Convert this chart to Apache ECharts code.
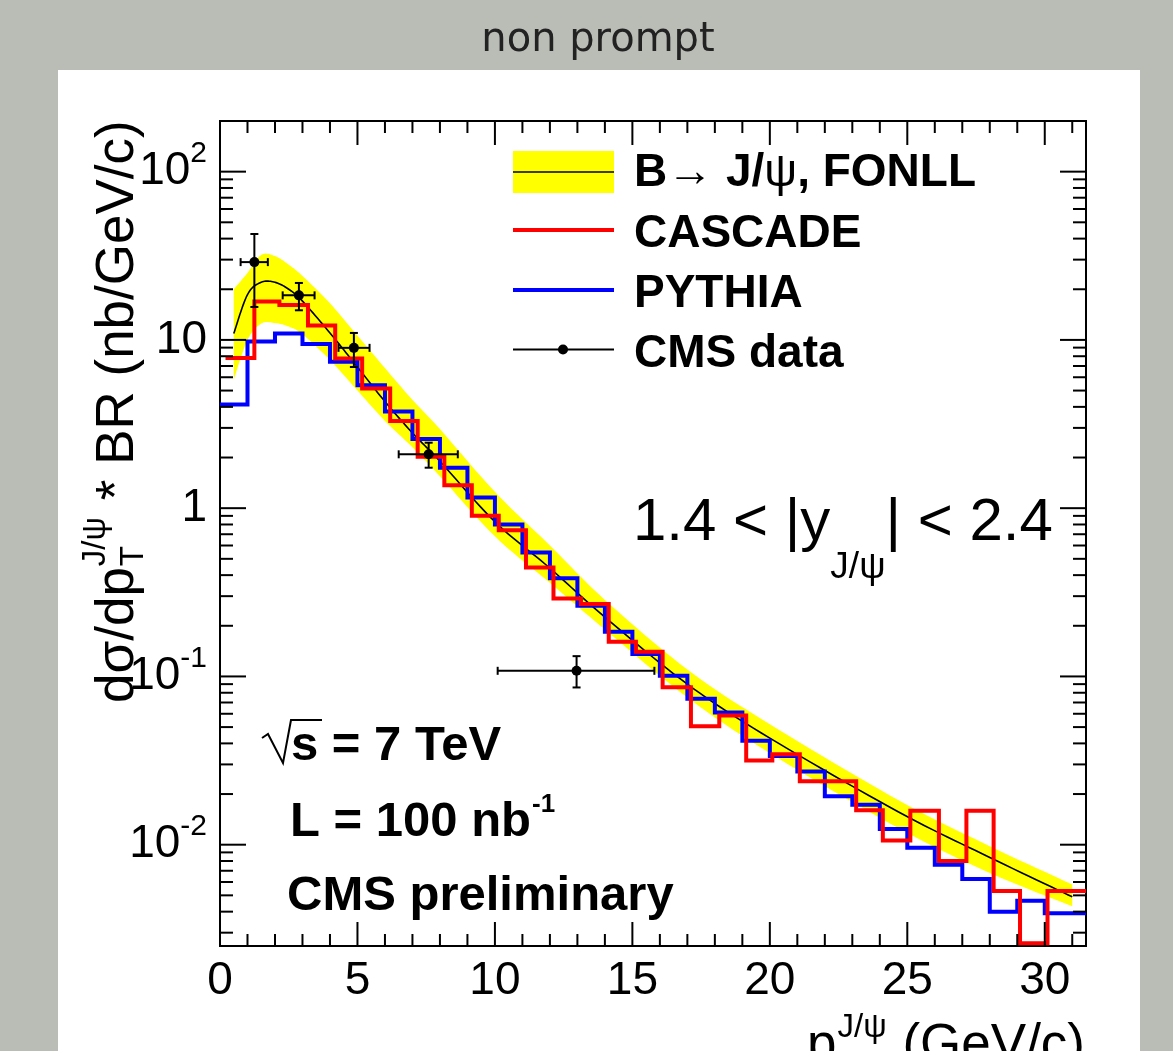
<!DOCTYPE html>
<html>
<head>
<meta charset="utf-8">
<title>non prompt</title>
<script src="https://cdn.jsdelivr.net/npm/echarts@6.0.0/dist/echarts.min.js"></script>
<style>
html,body{margin:0;padding:0;background:#babdb6;overflow:hidden;}
#panel{position:absolute;left:58px;top:70px;width:1082px;height:990px;background:#ffffff;}
#chart{position:absolute;left:0;top:0;width:1173px;height:1051px;}
</style>
</head>
<body>
<div id="panel"></div>
<div id="chart"></div>
<script>
// ---------------- data ----------------
const pythiaEdges  = [0,1,2,3,4,5,6,7,8,9,10,11,12,13,14,15,16,17,18,19,20,21,22,23,24,25,26,27,28,29,30,31.5];
const pythiaValues = [4.13,9.8,10.9,9.46,7.41,5.38,3.75,2.58,1.74,1.156,0.80,0.545,0.383,0.263,0.1845,0.136,0.101,0.0737,0.061,0.0415,0.0337,0.0272,0.0194,0.0173,0.0124,0.0096,0.0076,0.00625,0.0040,0.00464,0.00392];

const cascadeEdges  = [0.2,1.25,2.16,3.2,4.19,5.17,6.19,7.19,8.16,9.16,10.14,11.13,12.13,13.13,14.14,15.13,16.1,17.13,18.16,19.14,20.09,21.09,22.1,23.14,24.11,25.11,26.15,27.15,28.14,29.1,30.1,31.5];
const cascadeValues = [7.82,16.9,16.1,12.2,7.75,5.15,3.3,2.02,1.37,0.90,0.74,0.444,0.291,0.269,0.161,0.140,0.0863,0.0505,0.0585,0.0317,0.0345,0.0238,0.0238,0.0160,0.0106,0.0159,0.0080,0.0159,0.0053,0.0026,0.0053];

const fonllPt      = [0.5,1,1.5,2,2.5,3,4,5,6,7,8,10,12,14,17,20,24.7,28,31];
const fonllCentral = [10.9,18.6,22,22,20,17,11,6.9,4.3,2.8,1.9,0.83,0.44,0.225,0.09,0.043,0.0156,0.0084,0.0049];
const fonllUpper   = [20,25,32,31.5,28,24,16.5,10.6,6.8,4.4,2.95,1.25,0.6,0.285,0.11,0.052,0.0183,0.0098,0.0058];
const fonllLower   = [5.8,10,12.5,12.6,12,10.8,7.6,5.0,3.3,2.3,1.55,0.68,0.36,0.19,0.075,0.035,0.0125,0.0068,0.0043];

const cmsPt     = [1.25,2.87,4.87,7.59,12.97];
const cmsValue  = [29.0,18.4,8.97,2.09,0.108];
const cmsPtLow  = [0.75,2.28,4.31,6.5,10.1];
const cmsPtHigh = [1.74,3.44,5.44,8.65,15.8];
const cmsErrLow = [15.7,15.0,6.9,1.74,0.086];
const cmsErrHigh= [42.6,21.8,11.0,2.45,0.132];

const xMajorTicks = [0,5,10,15,20,25,30];
const xMinorTicks = [1,2,3,4,6,7,8,9,11,12,13,14,16,17,18,19,21,22,23,24,26,27,28,29,31];
const yMajorTicks = [0.01,0.1,1,10,100];
const yMinorTicks = [0.003,0.004,0.005,0.006,0.007,0.008,0.009,
                     0.02,0.03,0.04,0.05,0.06,0.07,0.08,0.09,
                     0.2,0.3,0.4,0.5,0.6,0.7,0.8,0.9,
                     2,3,4,5,6,7,8,9,
                     20,30,40,50,60,70,80,90];

// ---------------- helpers ----------------
const FF = '"Liberation Sans", Arial, Helvetica, sans-serif';
const mctx = document.createElement('canvas').getContext('2d');
function measure(t, size, weight) { mctx.font = (weight || 'normal') + ' ' + size + 'px ' + FF; return mctx.measureText(t).width; }

function histPoints(edges, vals) {
  const pts = vals.map((v, i) => [edges[i], v]);
  pts.push([edges[edges.length - 1], vals[vals.length - 1]]);
  return pts;
}
function splinePts(p) {
  const out = [], n = p.length, N = 12;
  for (let i = 0; i < n - 1; i++) {
    const p0 = p[Math.max(i - 1, 0)], p1 = p[i], p2 = p[i + 1], p3 = p[Math.min(i + 2, n - 1)];
    const c1 = [p1[0] + (p2[0] - p0[0]) / 6, p1[1] + (p2[1] - p0[1]) / 6];
    const c2 = [p2[0] - (p3[0] - p1[0]) / 6, p2[1] - (p3[1] - p1[1]) / 6];
    for (let k = 0; k < N; k++) {
      const t = k / N, u = 1 - t;
      out.push([u*u*u*p1[0] + 3*u*u*t*c1[0] + 3*u*t*t*c2[0] + t*t*t*p2[0],
                u*u*u*p1[1] + 3*u*u*t*c1[1] + 3*u*t*t*c2[1] + t*t*t*p2[1]]);
    }
  }
  out.push(p[n - 1]);
  return out;
}

function renderBand(params, api) {
  if (params.dataIndex !== 0) return null;
  const up = fonllPt.map((x, i) => api.coord([x, fonllUpper[i]]));
  const lo = fonllPt.map((x, i) => api.coord([x, fonllLower[i]]));
  const pts = splinePts(up).concat(splinePts(lo).reverse());
  return { type: 'polygon', shape: { points: pts }, style: { fill: '#ffff00', stroke: null } };
}
function renderCentral(params, api) {
  if (params.dataIndex !== 0) return null;
  const c = fonllPt.map((x, i) => api.coord([x, fonllCentral[i]]));
  return { type: 'polyline', shape: { points: splinePts(c) }, style: { stroke: '#000', lineWidth: 1.6, fill: null } };
}
function renderData(params, api) {
  const c = api.coord([api.value(0), api.value(1)]);
  const xl = api.coord([api.value(2), api.value(1)])[0];
  const xh = api.coord([api.value(3), api.value(1)])[0];
  const yl = api.coord([api.value(0), api.value(4)])[1];
  const yh = api.coord([api.value(0), api.value(5)])[1];
  const st = { stroke: '#000', lineWidth: 2 };
  const cap = 4;
  const L = (x1, y1, x2, y2) => ({ type: 'line', shape: { x1, y1, x2, y2 }, style: st });
  return { type: 'group', children: [
    L(xl, c[1], xh, c[1]), L(c[0], yl, c[0], yh),
    L(xl, c[1] - cap, xl, c[1] + cap), L(xh, c[1] - cap, xh, c[1] + cap),
    L(c[0] - cap, yl, c[0] + cap, yl), L(c[0] - cap, yh, c[0] + cap, yh),
    { type: 'circle', shape: { cx: c[0], cy: c[1], r: 5 }, style: { fill: '#000' } }
  ]};
}
function renderTicks(params, api) {
  const cs = params.coordSys;
  const p = api.coord([api.value(0), api.value(1)]);
  const kind = api.value(2), major = api.value(3);
  const st = { stroke: '#000', lineWidth: 2 };
  if (kind === 0) {
    const len = major ? 24 : 12;
    return { type: 'group', children: [
      { type: 'line', shape: { x1: p[0], y1: cs.y + cs.height, x2: p[0], y2: cs.y + cs.height - len }, style: st },
      { type: 'line', shape: { x1: p[0], y1: cs.y, x2: p[0], y2: cs.y + len }, style: st }
    ]};
  }
  const len = major ? 26 : 13;
  return { type: 'group', children: [
    { type: 'line', shape: { x1: cs.x, y1: p[1], x2: cs.x + len, y2: p[1] }, style: st },
    { type: 'line', shape: { x1: cs.x + cs.width, y1: p[1], x2: cs.x + cs.width - len, y2: p[1] }, style: st }
  ]};
}

const tickData = []
  .concat(xMajorTicks.map(v => [v, 1, 0, 1]))
  .concat(xMinorTicks.map(v => [v, 1, 0, 0]))
  .concat(yMajorTicks.map(v => [1, v, 1, 1]))
  .concat(yMinorTicks.map(v => [1, v, 1, 0]));

// ---------------- text layout ----------------
const TXT = (x, y, text, size, weight, align, extra) => ({
  type: 'text', x, y, z: 50,
  style: Object.assign({ text, fontSize: size, fontFamily: FF, fontWeight: weight || 'normal', fill: '#000',
    align: align || 'left', verticalAlign: 'middle', textAlign: align || 'left', textVerticalAlign: 'middle' }, extra || {})
});

const TF = 53, TS = 33;
const yw1 = measure('dσ/dp', TF);
const yw2 = Math.max(measure('T', TS), measure('J/ψ', TS));
const yTitle = { type: 'group', x: 118, y: 703, rotation: Math.PI / 2, z: 50, children: [
  TXT(0, 0, 'dσ/dp', TF),
  TXT(yw1 + 1, 16, 'T', TS),
  TXT(yw1 + 1, -22, 'J/ψ', TS),
  TXT(yw1 + yw2 + 3, 0, ' * BR (nb/GeV/c)', TF)
]};
const xw1 = measure('p', TF), xw2 = Math.max(measure('T', TS), measure('J/ψ', TS)), xw3 = measure(' (GeV/c)', TF);
const xStart = 1085 - (xw1 + xw2 + 2 + xw3);
const xTitleY = 1046;
const xTitle = [
  TXT(xStart, xTitleY, 'p', TF),
  TXT(xStart + xw1 + 1, xTitleY + 22, 'T', TS),
  TXT(xStart + xw1 + 1, xTitleY - 18, 'J/ψ', TS),
  TXT(xStart + xw1 + xw2 + 2, xTitleY, ' (GeV/c)', TF)
];

const LF = 46;
const legend = [
  { type: 'rect', z: 40, shape: { x: 513, y: 151, width: 101, height: 42 }, style: { fill: '#ffff00' } },
  { type: 'line', z: 41, shape: { x1: 513, y1: 172, x2: 614, y2: 172 }, style: { stroke: '#000', lineWidth: 1.6 } },
  { type: 'line', z: 41, shape: { x1: 513, y1: 230, x2: 614, y2: 230 }, style: { stroke: '#ff0000', lineWidth: 4 } },
  { type: 'line', z: 41, shape: { x1: 513, y1: 290, x2: 614, y2: 290 }, style: { stroke: '#0000ff', lineWidth: 4 } },
  { type: 'line', z: 41, shape: { x1: 513, y1: 349.5, x2: 614, y2: 349.5 }, style: { stroke: '#000', lineWidth: 2 } },
  { type: 'circle', z: 41, shape: { cx: 563, cy: 349.5, r: 5 }, style: { fill: '#000' } },
  TXT(634, 173, '{b|B}{n|→ }{b|J/}{n|ψ}{b|, FONLL}', LF, 'bold', 'left', {
    rich: { b: { fontSize: LF, fontWeight: 'bold', fontFamily: FF, fill: '#000' },
            n: { fontSize: LF, fontWeight: 'normal', fontFamily: FF, fill: '#000' } } }),
  TXT(634, 234, 'CASCADE', LF, 'bold'),
  TXT(634, 294, 'PYTHIA', LF, 'bold'),
  TXT(634, 354, 'CMS data', LF, 'bold')
];

const AF = 49;
const lw = measure('L = 100 nb', AF, 'bold');
const notes = [
  { type: 'text', x: 633, y: 493, z: 50, style: {
      text: '{m|1.4 < |y}{s|J/ψ}{m|| < 2.4}', fill: '#000', align: 'left', verticalAlign: 'top', textAlign: 'left', textVerticalAlign: 'top',
      rich: { m: { fontSize: 60, lineHeight: 60, fontFamily: FF, fill: '#000', verticalAlign: 'top' },
              s: { fontSize: 37, lineHeight: 37, fontFamily: FF, fill: '#000', verticalAlign: 'top', padding: [56, 0, 0, 0] } } } },
  { type: 'polyline', z: 50, shape: { points: [[262, 738], [268, 734], [283, 763], [291, 720], [322, 720]] }, style: { stroke: '#000', lineWidth: 2, fill: null } },
  TXT(291, 746, 's = 7 TeV', AF, 'bold'),
  TXT(290, 822, 'L = 100 nb', AF, 'bold'),
  TXT(290 + lw + 1, 805, '-1', 26, 'bold'),
  TXT(287, 896, 'CMS preliminary', AF, 'bold'),
  { type: 'text', x: 598, y: 41, z: 50, style: { text: 'non prompt', fontSize: 40, fontFamily: '"DejaVu Sans", sans-serif', fill: '#222222',
      align: 'center', verticalAlign: 'middle', textAlign: 'center', textVerticalAlign: 'middle' } }
];

// ---------------- chart ----------------
const chart = echarts.init(document.getElementById('chart'), null, { renderer: 'canvas' });
const yRich = {
  b: { fontSize: 46, fontFamily: FF, color: '#000', verticalAlign: 'bottom', lineHeight: 46, padding: [8, 0, 0, 0] },
  s: { fontSize: 30, fontFamily: FF, color: '#000', verticalAlign: 'bottom', lineHeight: 30, padding: [0, 0, 26, 0] }
};
chart.setOption({
  backgroundColor: 'transparent',
  animation: false,
  grid: { left: 220, top: 121, width: 866, height: 825, show: true, borderColor: '#000', borderWidth: 2,
          backgroundColor: 'transparent', containLabel: false, outerBoundsMode: 'none' },
  xAxis: {
    type: 'value', min: 0, max: 31.5, interval: 5,
    axisLine: { show: false }, axisTick: { show: false }, splitLine: { show: false },
    axisLabel: { fontSize: 46, fontFamily: FF, color: '#000', margin: 12, showMaxLabel: false,
      formatter: v => (Math.abs(v / 5 - Math.round(v / 5)) < 1e-9 ? String(v) : '') }
  },
  yAxis: {
    type: 'log', logBase: 10, min: 0.0025, max: 200,
    axisLine: { show: false }, axisTick: { show: false }, splitLine: { show: false }, minorTick: { show: false },
    axisLabel: { margin: 13, showMaxLabel: false, showMinLabel: false, rich: yRich,
      formatter: function (v) {
        const e = Math.log10(v), r = Math.round(e);
        if (Math.abs(e - r) > 1e-6) return '';
        if (r === 0) return '{b|1}';
        if (r === 1) return '{b|10}';
        return '{b|10}{s|' + r + '}';
      } }
  },
  series: [
    { type: 'custom', name: 'FONLL band', renderItem: renderBand, data: [[fonllPt[0], fonllCentral[0]]], z: 2, silent: true, clip: true },
    { type: 'custom', name: 'B→J/ψ FONLL', renderItem: renderCentral, data: [[fonllPt[0], fonllCentral[0]]], z: 3, silent: true, clip: true },
    { type: 'line', name: 'PYTHIA', data: histPoints(pythiaEdges, pythiaValues), step: 'end', showSymbol: false, silent: true,
      lineStyle: { color: '#0000ff', width: 4, join: 'miter', cap: 'butt' }, z: 4, emphasis: { disabled: true } },
    { type: 'line', name: 'CASCADE', data: histPoints(cascadeEdges, cascadeValues), step: 'end', showSymbol: false, silent: true,
      lineStyle: { color: '#ff0000', width: 4, join: 'miter', cap: 'butt' }, z: 5, emphasis: { disabled: true } },
    { type: 'custom', name: 'CMS data', renderItem: renderData, z: 6, silent: true,
      data: cmsPt.map((x, i) => [x, cmsValue[i], cmsPtLow[i], cmsPtHigh[i], cmsErrLow[i], cmsErrHigh[i]]) },
    { type: 'custom', name: 'ticks', renderItem: renderTicks, data: tickData, z: 7, silent: true }
  ],
  graphic: [yTitle].concat(xTitle, legend, notes)
});
</script>
</body>
</html>
